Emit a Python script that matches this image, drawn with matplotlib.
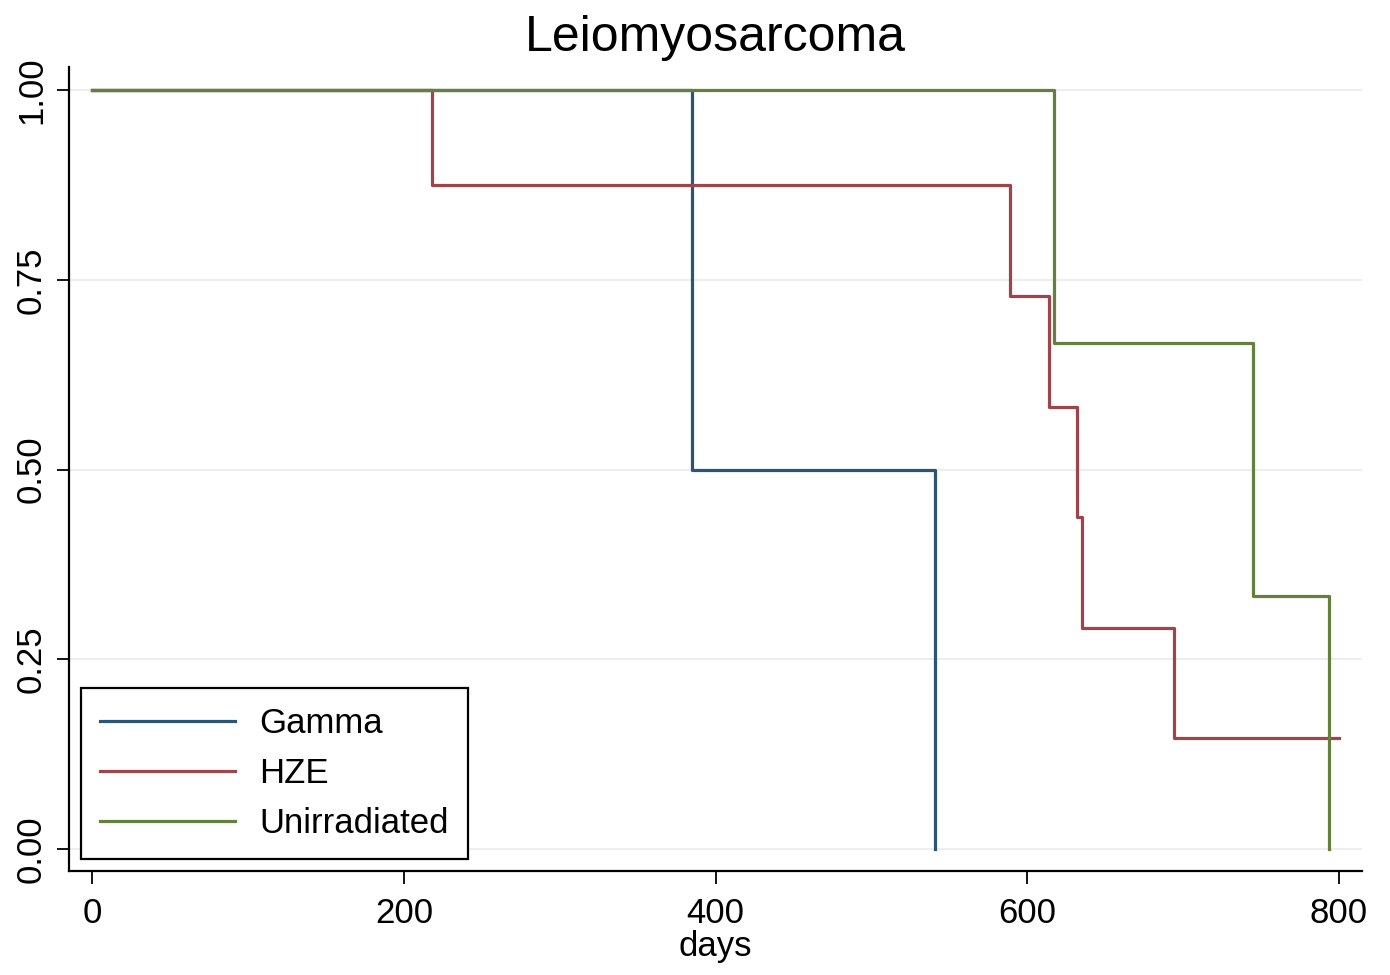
import matplotlib.pyplot as plt

plt.rcParams['font.family'] = ['Liberation Sans', 'DejaVu Sans']

# Kaplan-Meier step data
gamma_days = [0, 385, 541]
gamma_surv = [1.0, 0.5, 0.0]

hze_days = [0, 218, 589, 614, 632, 635, 694, 800]
hze_surv = [1.0, 0.875, 0.729, 0.583, 0.4375, 0.2917, 0.1458, 0.1458]

unirr_days = [0, 617, 745, 794]
unirr_surv = [1.0, 0.6667, 0.3333, 0.0]

xticks = [0, 200, 400, 600, 800]
yticks = [0.0, 0.25, 0.5, 0.75, 1.0]

fig = plt.figure(figsize=(13.9, 9.75), dpi=100)
ax = fig.add_axes([0.0496, 0.1067, 0.9304, 0.8243])

ax.step(gamma_days, gamma_surv, where='post', color='#2a5577', lw=2.3, label='Gamma')
ax.step(hze_days, hze_surv, where='post', color='#a0444c', lw=2.3, label='HZE')
ax.step(unirr_days, unirr_surv, where='post', color='#63803c', lw=2.3, label='Unirradiated')

ax.set_xlim(-15, 815)
ax.set_ylim(-0.029, 1.03)
ax.set_xticks(xticks)
ax.set_yticks(yticks)
ax.set_yticklabels([f'{v:.2f}' for v in yticks], rotation=90, va='center')
ax.tick_params(axis='x', labelsize=25, length=9, width=1.3, direction='out', pad=10)
ax.tick_params(axis='y', labelsize=25, length=9, width=1.3, direction='out', pad=6)
ax.yaxis.grid(True, color='#eeeeee', lw=1.5)
ax.set_axisbelow(True)
for s in ['top', 'right']:
    ax.spines[s].set_visible(False)
for s in ['left', 'bottom']:
    ax.spines[s].set_linewidth(1.6)

ax.set_xlabel('days', fontsize=25, labelpad=0)
ax.set_title('Leiomyosarcoma', fontsize=36, pad=12)

leg = ax.legend(loc='lower left', bbox_to_anchor=(0.009, 0.015), fontsize=25,
                handlelength=3.9, handletextpad=0.7, labelspacing=0.48,
                fancybox=False, edgecolor='black', borderpad=0.55,
                borderaxespad=0, framealpha=1)
leg.get_frame().set_linewidth(1.6)

fig.savefig('out.png', dpi=100)
